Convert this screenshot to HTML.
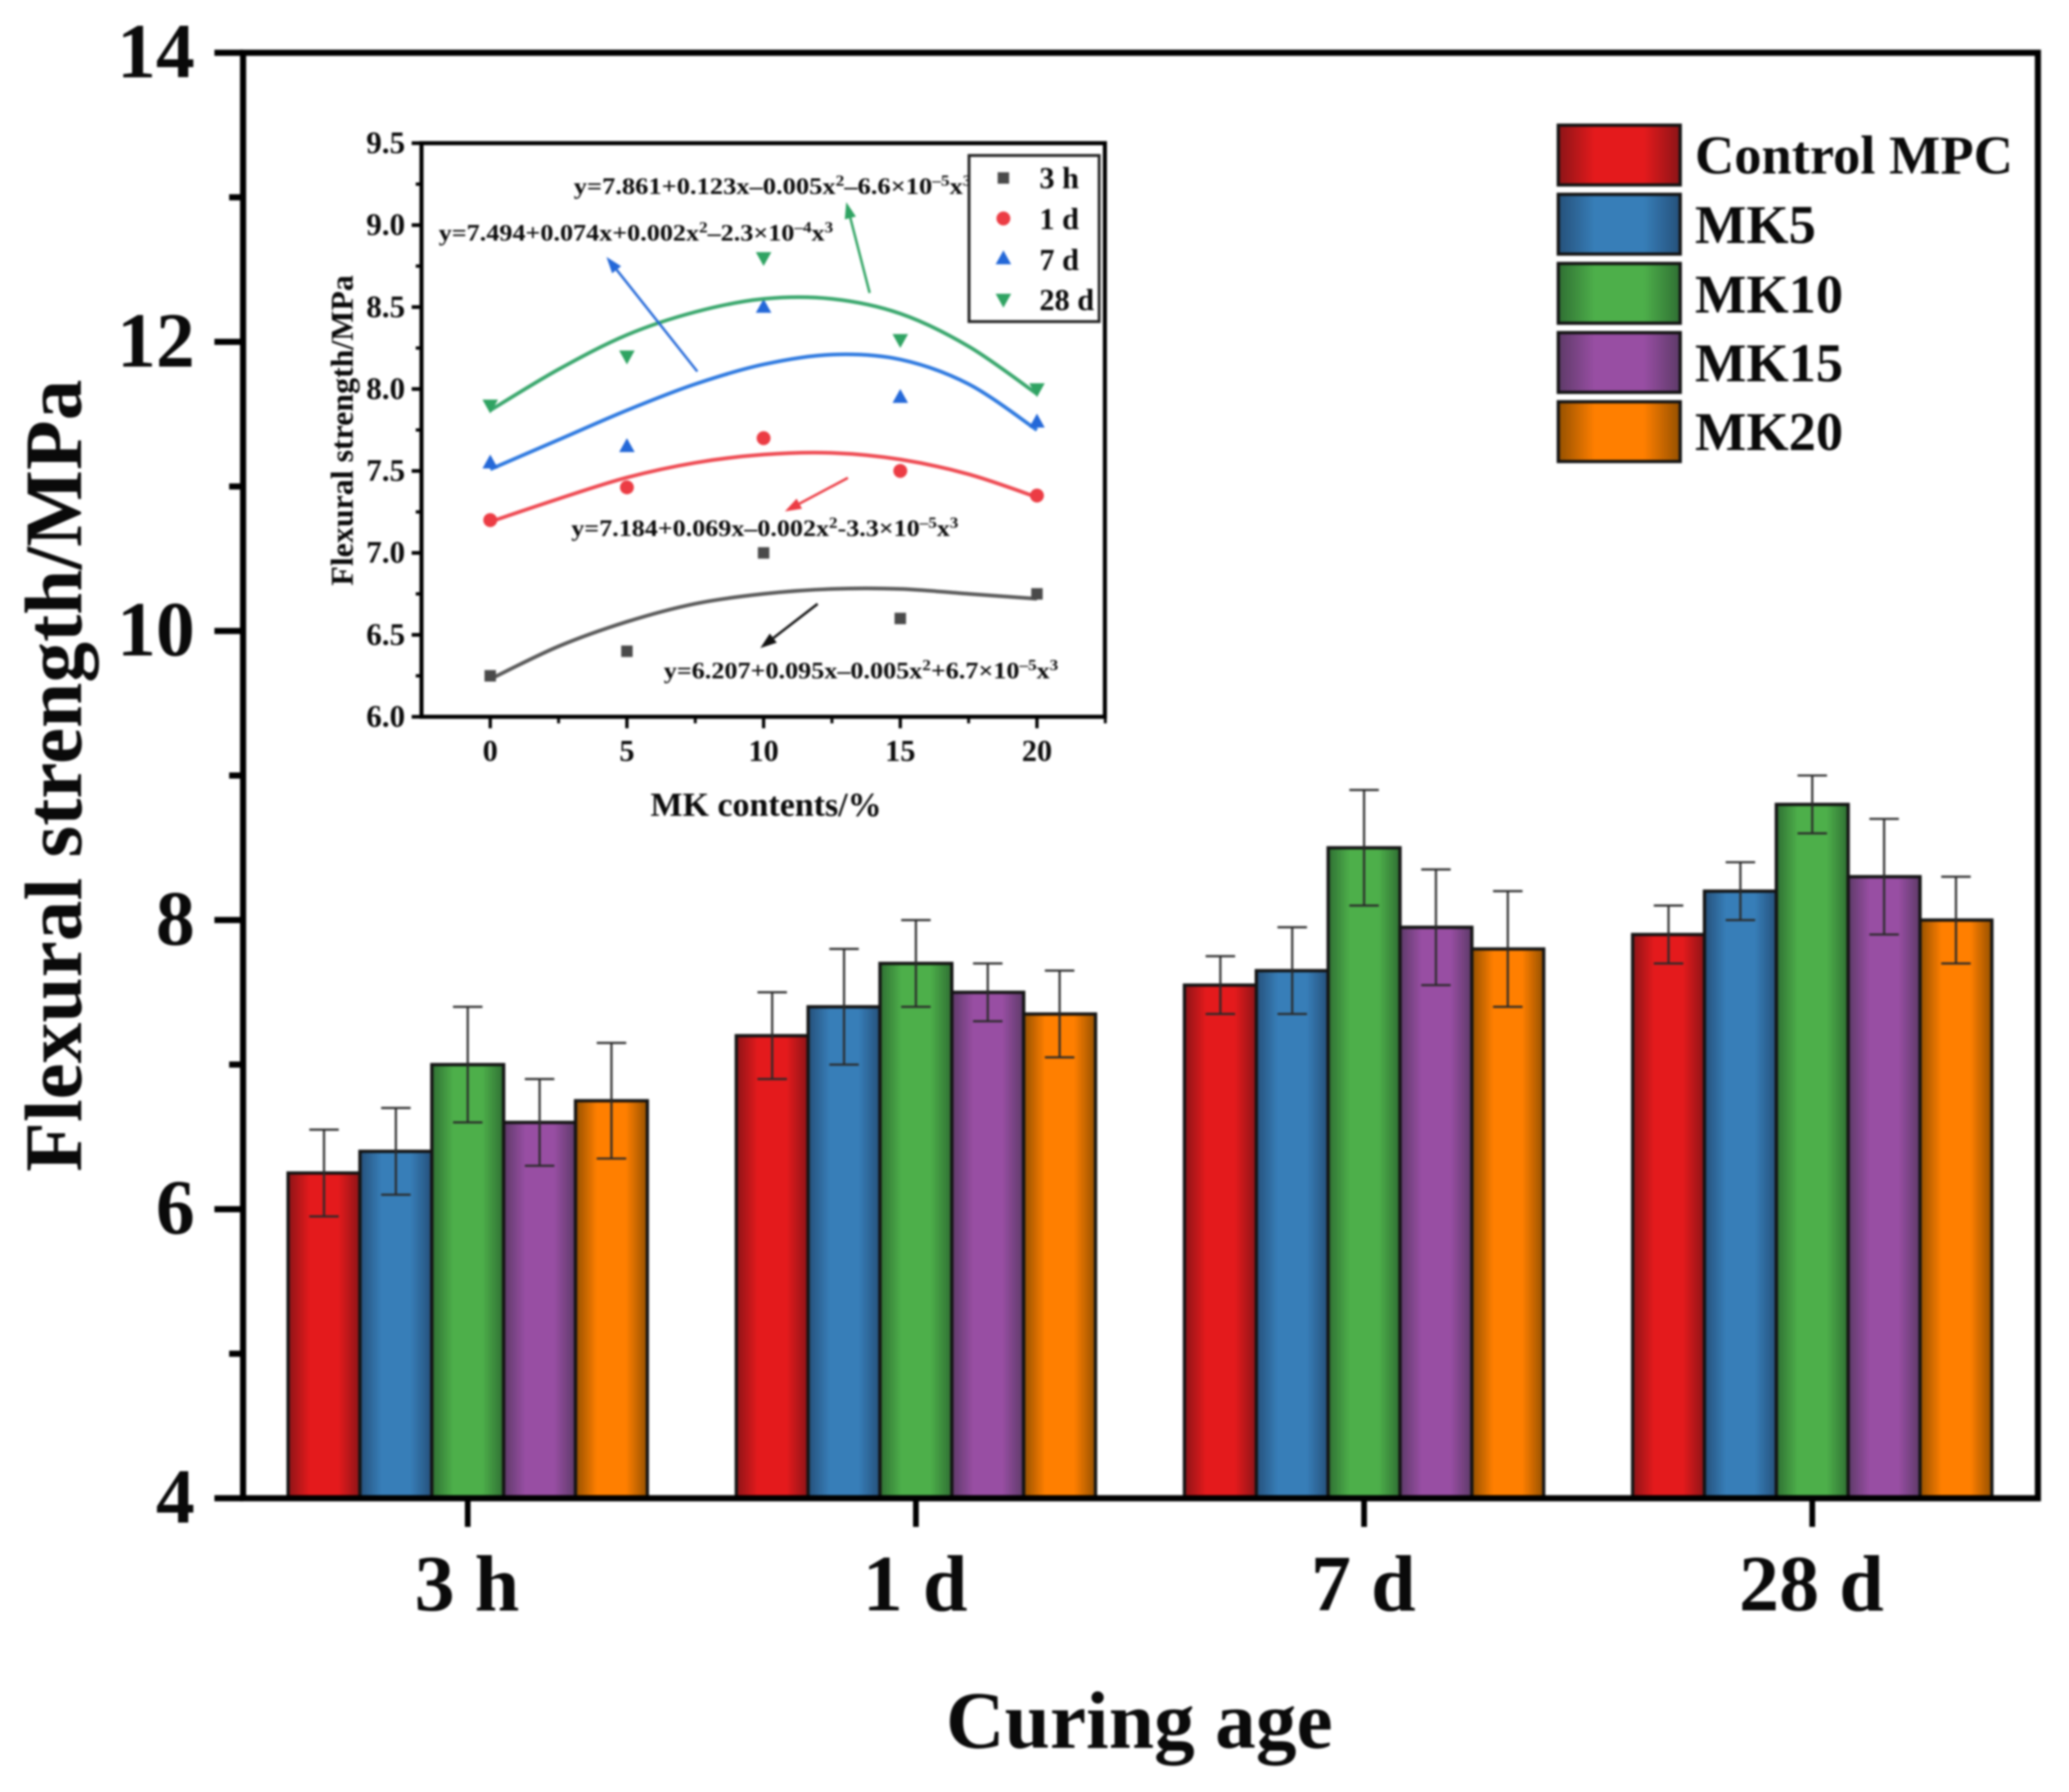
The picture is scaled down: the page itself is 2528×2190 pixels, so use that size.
<!DOCTYPE html>
<html lang="en">
<head>
<meta charset="utf-8">
<title>Flexural strength by curing age</title>
<style>
html,body{margin:0;padding:0;background:#fff;width:2528px;height:2190px;overflow:hidden}
svg{display:block;filter:blur(1.2px)}
text{font-family:"Liberation Serif","DejaVu Serif",serif;font-weight:700;fill:#0a0a0a}
</style>
</head>
<body>
<svg id="chart" xmlns="http://www.w3.org/2000/svg" width="2528" height="2190" viewBox="0 0 2528 2190">
<defs id="defs"></defs>
</svg>
<script>
// ---- main bar chart data ----
const ages = ['3 h', '1 d', '7 d', '28 d'];
const mixes = ['Control MPC', 'MK5', 'MK10', 'MK15', 'MK20'];
const controlMeans = [6.25, 7.2, 7.55, 7.9];
const mk5Means = [6.4, 7.4, 7.65, 8.2];
const mk10Means = [7.0, 7.7, 8.5, 8.8];
const mk15Means = [6.6, 7.5, 7.95, 8.3];
const mk20Means = [6.75, 7.35, 7.8, 8.0];
const controlErrors = [0.3, 0.3, 0.2, 0.2];
const mk5Errors = [0.3, 0.4, 0.3, 0.2];
const mk10Errors = [0.4, 0.3, 0.4, 0.2];
const mk15Errors = [0.3, 0.2, 0.4, 0.4];
const mk20Errors = [0.4, 0.3, 0.4, 0.3];
const yMajorTicks = [4, 6, 8, 10, 12, 14];
const yMinorTicks = [5, 7, 9, 11, 13];
// ---- inset scatter data ----
const insetContents = [0, 5, 10, 15, 20];
const insetYTicks = ['6.0', '6.5', '7.0', '7.5', '8.0', '8.5', '9.0', '9.5'];
const insetXMinor = [2.5, 7.5, 12.5, 17.5, 22.5];
const insetSeriesNames = ['3 h', '1 d', '7 d', '28 d'];
const points3h = [6.25, 6.4, 7.0, 6.6, 6.75];
const points1d = [7.2, 7.4, 7.7, 7.5, 7.35];
const points7d = [7.55, 7.65, 8.5, 7.95, 7.8];
const points28d = [7.9, 8.2, 8.8, 8.3, 8.0];
// fit curves
const curveContents = [0, 2.5, 5, 7.5, 10, 12.5, 15, 17.5, 20];
const curve3h = [6.23, 6.43, 6.58, 6.69, 6.75, 6.78, 6.78, 6.75, 6.72];
const curve1d = [7.19, 7.33, 7.46, 7.55, 7.60, 7.61, 7.57, 7.48, 7.34];
const curve7d = [7.51, 7.69, 7.87, 8.03, 8.15, 8.21, 8.18, 8.03, 7.75];
const curve28d = [7.87, 8.12, 8.33, 8.47, 8.55, 8.55, 8.46, 8.26, 7.97];

const NS = 'http://www.w3.org/2000/svg';
const svg = document.getElementById('chart');
const defs = document.getElementById('defs');

function mk(tag, attrs, parent) {
  const el = document.createElementNS(NS, tag);
  for (const k in attrs) el.setAttribute(k, attrs[k]);
  (parent || svg).appendChild(el);
  return el;
}

// axis functions
const yMain = v => 1831 - (v - 4) * 176.65;
const xGroup = i => 571.5 + 547.6 * i;
const barW = 87.8;
const xBar = (i, j) => xGroup(i) + (j - 2.5) * barW;
const xIn = v => 599 + v * 33.4;
const yIn = v => 876 - (v - 6) * 200.3;

// gradients
const barDark = ['#8c1417', '#25507a', '#2f6f33', '#5d3a68', '#945000'];
const barBright = ['#e41a1c', '#377eb8', '#4daf4a', '#984ea3', '#ff7f00'];
mixes.forEach((m, j) => {
  const g = mk('linearGradient', {id: 'grad' + j, x1: 0, x2: 1, y1: 0, y2: 0}, defs);
  mk('stop', {offset: '0', 'stop-color': barDark[j]}, g);
  mk('stop', {offset: '0.3', 'stop-color': barBright[j]}, g);
  mk('stop', {offset: '0.7', 'stop-color': barBright[j]}, g);
  mk('stop', {offset: '1', 'stop-color': barDark[j]}, g);
});

// bars and error bars
const allMeans = [controlMeans, mk5Means, mk10Means, mk15Means, mk20Means];
const allErrors = [controlErrors, mk5Errors, mk10Errors, mk15Errors, mk20Errors];
ages.forEach((age, i) => {
  mixes.forEach((mix, j) => {
    const v = allMeans[j][i];
    const e = allErrors[j][i];
    const bar = mk('rect', {x: xBar(i, j), y: yMain(v), width: barW, height: yMain(4) - yMain(v), fill: 'url(#grad' + j + ')', stroke: '#141414', 'stroke-width': 4});
    
    
    const cx = xBar(i, j) + barW / 2;
    const err = mk('path', {
      d: 'M' + (cx - 18) + ' ' + yMain(v + e) + 'H' + (cx + 18) +
         'M' + cx + ' ' + yMain(v + e) + 'V' + yMain(v - e) +
         'M' + (cx - 18) + ' ' + yMain(v - e) + 'H' + (cx + 18),
      fill: 'none', stroke: '#2a2a2a', 'stroke-width': 2.6});
    
    
  });
});

// main frame
const frame = mk('rect', {x: 297, y: yMain(14), width: 2193, height: yMain(4) - yMain(14), fill: 'none', stroke: '#000', 'stroke-width': 7.5});



// y ticks
yMajorTicks.forEach(v => {
  const t = mk('line', {x1: 262, x2: 297, y1: yMain(v), y2: yMain(v), stroke: '#000', 'stroke-width': 7.5});
  
  
  const l = mk('text', {x: 238, y: yMain(v) + 30, 'text-anchor': 'end', 'font-size': 95});
  l.textContent = String(v);
  
  
});
yMinorTicks.forEach(v => {
  const t = mk('line', {x1: 280, x2: 297, y1: yMain(v), y2: yMain(v), stroke: '#000', 'stroke-width': 7.5});
  
  
});

// x ticks
ages.forEach((age, i) => {
  const t = mk('line', {x1: xGroup(i), x2: xGroup(i), y1: yMain(4), y2: 1866, stroke: '#000', 'stroke-width': 7});
  
  
  const l = mk('text', {x: xGroup(i) - 1, y: 1968, 'text-anchor': 'middle', 'font-size': 98});
  l.textContent = age;
  
  
});

// axis titles
const xTitle = mk('text', {x: 1392, y: 2136, 'text-anchor': 'middle', 'font-size': 99.5});
xTitle.textContent = 'Curing age';


const yTitle = mk('text', {transform: 'translate(99 948) rotate(-90)', 'text-anchor': 'middle', 'font-size': 99.5});
yTitle.textContent = 'Flexural strength/MPa';



// main legend
const legendTop = [153, 237.5, 322, 406.5, 491];
const legendBase = [212, 297, 382, 466, 550];
mixes.forEach((m, j) => {
  const s = mk('rect', {x: 1904, y: legendTop[j], width: 149, height: 73, fill: 'url(#grad' + j + ')', stroke: '#141414', 'stroke-width': 4});
  
  
  const l = mk('text', {x: 2071, y: legendBase[j], 'font-size': 66.5});
  l.textContent = m;
  
  
});

// ---- inset ----
const inFrame = mk('rect', {x: 515, y: yIn(9.5), width: 835, height: yIn(6) - yIn(9.5), fill: '#fff', stroke: '#000', 'stroke-width': 5});



insetYTicks.forEach(s => {
  const v = parseFloat(s);
  const t = mk('line', {x1: 503, x2: 515, y1: yIn(v), y2: yIn(v), stroke: '#000', 'stroke-width': 4.5});
  
  
  const l = mk('text', {x: 495, y: yIn(v) + 12, 'text-anchor': 'end', 'font-size': 38});
  l.textContent = s;
  
  
});
insetYTicks.slice(1).forEach(s => {
  const v = parseFloat(s) - 0.25;
  const t = mk('line', {x1: 508, x2: 515, y1: yIn(v), y2: yIn(v), stroke: '#000', 'stroke-width': 4});
  
  
});
insetContents.forEach(v => {
  const t = mk('line', {x1: xIn(v), x2: xIn(v), y1: 876, y2: 890, stroke: '#000', 'stroke-width': 4});
  
  
  const l = mk('text', {x: xIn(v), y: 930, 'text-anchor': 'middle', 'font-size': 37});
  l.textContent = String(v);
  
  
});
insetXMinor.forEach(v => {
  const t = mk('line', {x1: xIn(v), x2: xIn(v), y1: 876, y2: 884, stroke: '#000', 'stroke-width': 3.5});
  
  
});

const inXTitle = mk('text', {x: 936, y: 997, 'text-anchor': 'middle', 'font-size': 41.5});
inXTitle.textContent = 'MK contents/%';


const inYTitle = mk('text', {transform: 'translate(431 526) rotate(-90)', 'text-anchor': 'middle', 'font-size': 39});
inYTitle.textContent = 'Flexural strength/MPa';



// smooth curve through the read values
function smoothPath(xs, ys) {
  const p = xs.map((x, i) => [xIn(x), yIn(ys[i])]);
  let d = 'M' + p[0][0] + ' ' + p[0][1];
  for (let i = 0; i < p.length - 1; i++) {
    const a = p[Math.max(i - 1, 0)], b = p[i], c = p[i + 1], e = p[Math.min(i + 2, p.length - 1)];
    d += 'C' + (b[0] + (c[0] - a[0]) / 6) + ' ' + (b[1] + (c[1] - a[1]) / 6) + ' ' +
         (c[0] - (e[0] - b[0]) / 6) + ' ' + (c[1] - (e[1] - b[1]) / 6) + ' ' + c[0] + ' ' + c[1];
  }
  return d;
}

const insetColors = ['#4a4a4a', '#ec3c44', '#2468d8', '#2fa362'];
const curveColors = ['#5a5a5a', '#ee4a52', '#2f7ae0', '#3aa76d'];
const insetPoints = [points3h, points1d, points7d, points28d];
const insetCurves = [curve3h, curve1d, curve7d, curve28d];

function marker(kind, x, y, color) {
  if (kind === 0) return mk('rect', {x: x - 7, y: y - 7, width: 14, height: 14, fill: color});
  if (kind === 1) return mk('circle', {cx: x, cy: y, r: 8.5, fill: color});
  if (kind === 2) return mk('path', {d: 'M' + x + ' ' + (y - 10) + 'L' + (x + 9.5) + ' ' + (y + 7) + 'L' + (x - 9.5) + ' ' + (y + 7) + 'Z', fill: color});
  return mk('path', {d: 'M' + x + ' ' + (y + 10) + 'L' + (x + 9.5) + ' ' + (y - 7) + 'L' + (x - 9.5) + ' ' + (y - 7) + 'Z', fill: color});
}

insetSeriesNames.forEach((name, s) => {
  const c = mk('path', {d: smoothPath(curveContents, insetCurves[s]), fill: 'none', stroke: curveColors[s], 'stroke-width': 4.5});
  
  
  insetContents.forEach((x, i) => {
    const m = marker(s, xIn(x), yIn(insetPoints[s][i]), insetColors[s]);
    
    
  });
});

// inset arrows
function arrow(x1, y1, x2, y2, color) {
  const a = Math.atan2(y2 - y1, x2 - x1), L = 20, W = 7;
  const bx = x2 - L * Math.cos(a), by = y2 - L * Math.sin(a);
  const g = mk('g', {});
  mk('line', {x1: x1, y1: y1, x2: bx, y2: by, stroke: color, 'stroke-width': 3}, g);
  mk('path', {d: 'M' + x2 + ' ' + y2 + 'L' + (bx - W * Math.sin(a)) + ' ' + (by + W * Math.cos(a)) + 'L' + (bx + W * Math.sin(a)) + ' ' + (by - W * Math.cos(a)) + 'Z', fill: color}, g);
  return g;
}
const arrow28 = arrow(1062.6, 358, 1034, 247, '#2fa362');


const arrow7 = arrow(852, 454, 741, 314, '#2468d8');


const arrow1 = arrow(1036, 584, 959, 625, '#ec3c44');


const arrow3 = arrow(999, 738, 929, 792, '#111');



// equations
function equation(x, y, len, a, e1, b) {
  const t = mk('text', {x: x, y: y, 'font-size': 29, textLength: len, lengthAdjust: 'spacingAndGlyphs'});
  const parts = [[a, 0], ['2', 1], [b, -1], [e1, 1], ['x', -1], ['3', 1]];
  let shift = 0;
  parts.forEach(p => {
    const ts = mk('tspan', {}, t);
    ts.textContent = p[0];
    const target = p[1] === 1 ? -10 : 0;
    ts.setAttribute('dy', target - shift);
    if (p[1] === 1) ts.setAttribute('font-size', 19);
    shift = target;
  });
  return t;
}
const eq28 = equation(701, 237, 486, 'y=7.861+0.123x–0.005x', '–5', '–6.6×10');


const eq7 = equation(536, 294, 482, 'y=7.494+0.074x+0.002x', '–4', '–2.3×10');


const eq1 = equation(698, 655, 473, 'y=7.184+0.069x–0.002x', '–5', '-3.3×10');


const eq3 = equation(811, 829, 482, 'y=6.207+0.095x–0.005x', '–5', '+6.7×10');



// inset legend
const inLegend = mk('rect', {x: 1184, y: 190, width: 159, height: 203, fill: '#fff', stroke: '#222', 'stroke-width': 3.5});


const inLegY = [217.5, 267, 316, 366];
const inLegBase = [230, 280, 330, 379];
insetSeriesNames.forEach((name, s) => {
  const m = marker(s, 1226, inLegY[s], insetColors[s]);
  
  
  const l = mk('text', {x: 1270, y: inLegBase[s], 'font-size': 37});
  l.textContent = name;
  
  
});
</script>
</body>
</html>
